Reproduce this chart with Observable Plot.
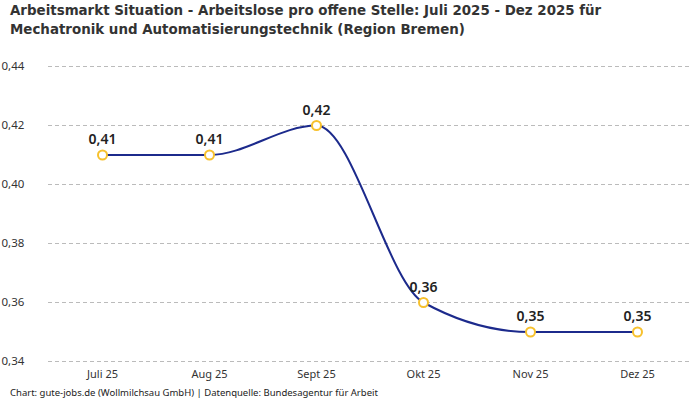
<!DOCTYPE html>
<html>
<head>
<meta charset="utf-8">
<script src="https://cdn.jsdelivr.net/npm/d3@7"></script>
<script src="https://cdn.jsdelivr.net/npm/@observablehq/plot@0.6"></script>
<style>
  html, body { margin: 0; padding: 0; background: #fff; width: 700px; height: 400px; overflow: hidden; position: relative; }
  #title { position: absolute; left: 10px; top: 1px; font-family: "DejaVu Sans Condensed", "Liberation Sans Narrow", sans-serif; font-stretch: condensed; font-weight: bold; font-size: 14.9px; line-height: 19px; color: #333; white-space: nowrap; z-index: 2; }
  #chart { position: absolute; left: -1px; top: 45px; z-index: 1; }
  #footer { position: absolute; left: 10px; top: 386px; font-family: "Noto Sans", sans-serif; font-size: 9.5px; color: #222; }
</style>
</head>
<body>
<div id="title">Arbeitsmarkt Situation - Arbeitslose pro offene Stelle: Juli 2025 - Dez 2025 für<br>Mechatronik und Automatisierungstechnik (Region Bremen)</div>
<div id="chart"></div>
<div id="footer">Chart: gute-jobs.de (Wollmilchsau GmbH) | Datenquelle: Bundesagentur für Arbeit</div>
<script>
const months = ["Juli 25", "Aug 25", "Sept 25", "Okt 25", "Nov 25", "Dez 25"];
const values = [0.41, 0.41, 0.42, 0.36, 0.35, 0.35];
const yTicks = [0.34, 0.36, 0.38, 0.40, 0.42, 0.44];

const data = months.map((m, i) => ({month: m, value: values[i]}));
const fmt = v => v.toFixed(2).replace(".", ",");

const chart = Plot.plot({
  width: 701,
  height: 340,
  marginLeft: 49,
  marginRight: 10,
  marginTop: 21,
  marginBottom: 24,
  style: {fontFamily: "Noto Sans, sans-serif", fontSize: "11px", color: "#333", background: "transparent"},
  x: {type: "point", domain: months, padding: 0.5, label: null},
  y: {domain: [0.34, 0.44], label: null},
  marks: [
    Plot.gridY(yTicks, {stroke: "#bbb", strokeOpacity: 1, strokeDasharray: "4,3"}),
    Plot.axisY(yTicks, {tickSize: 0, tickFormat: fmt, textAnchor: "start", dx: -38, fontSize: 11.5, fill: "#333"}),
    Plot.axisX({tickSize: 0, tickPadding: 9, fontSize: 11, fill: "#333"}),
    Plot.line(data, {x: "month", y: "value", curve: "monotone-x", stroke: "#1c2a8c", strokeWidth: 2}),
    Plot.dot(data, {x: "month", y: "value", r: 4.5, fill: "#fff", stroke: "#f7c12d", strokeWidth: 2}),
    Plot.text(data, {x: "month", y: "value", text: d => fmt(d.value), dy: -15, fontSize: 14, fontWeight: 600, fill: "#222"})
  ]
});
document.getElementById("chart").appendChild(chart);
</script>
</body>
</html>
